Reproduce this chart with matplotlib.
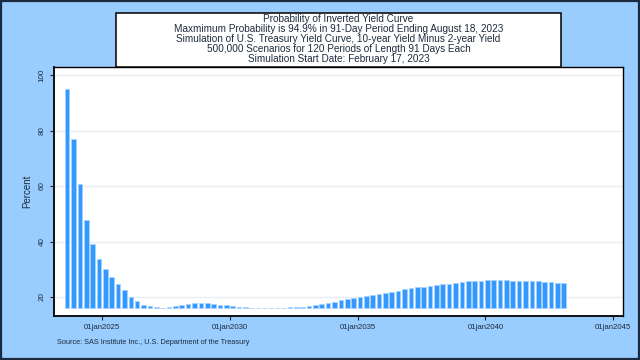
import matplotlib
matplotlib.use("Agg")
import matplotlib.pyplot as plt
import matplotlib.dates as mdates
from matplotlib.patches import Rectangle
import numpy as np
import pandas as pd

plt.rcParams['font.family'] = ['Liberation Sans', 'DejaVu Sans']

# ---- data ----
first_period_end = "2023-08-18"
period_days = 91
probability = [
    94.9, 76.9, 60.6, 47.7, 39.1, 33.7, 30.1, 27.3, 24.8, 22.4,
    20.1, 18.4, 17.2, 16.6, 16.3, 16.2, 16.5, 16.9, 17.2, 17.6,
    17.8, 17.8, 17.7, 17.6, 17.2, 17.0, 16.7, 16.4, 16.25, 16.15,
    16.1, 16.1, 16.1, 16.1, 16.15, 16.3, 16.4, 16.5, 16.9, 17.2,
    17.6, 18.0, 18.3, 18.8, 19.3, 19.6, 20.1, 20.5, 20.8, 21.2,
    21.6, 21.9, 22.3, 22.8, 23.1, 23.5, 23.7, 24.0, 24.3, 24.6,
    24.8, 25.2, 25.4, 25.6, 25.8, 25.9, 26.0, 26.0, 26.0, 26.0,
    25.9, 25.9, 25.8, 25.8, 25.6, 25.5, 25.4, 25.2, 25.1,
]
bar_base = 16.1
y_ticks = [20, 40, 60, 80, 100]
x_tick_dates = ["2025-01-01", "2030-01-01", "2035-01-01", "2040-01-01", "2045-01-01"]
x_tick_labels = ["01jan2025", "01jan2030", "01jan2035", "01jan2040", "01jan2045"]
title_lines = [
    "Probability of Inverted Yield Curve",
    "Maxmimum Probability is 94.9% in 91-Day Period Ending August 18, 2023",
    "Simulation of U.S. Treasury Yield Curve, 10-year Yield Minus 2-year Yield",
    "500,000 Scenarios for 120 Periods of Length 91 Days Each",
    "Simulation Start Date: February 17, 2023",
]
y_label = "Percent"
source_note = "Source: SAS Institute Inc., U.S. Department of the Treasury"

# ---- figure ----
W, H = 640, 360
BG = '#99ccff'
TXT = '#1e2b3c'
fig = plt.figure(figsize=(W / 100, H / 100), dpi=100, facecolor=BG)

# outer border
fig.patches.append(Rectangle((0.0015, 0.003), 0.997, 0.994, transform=fig.transFigure,
                             fill=False, edgecolor='#1a2a40', linewidth=1.6, zorder=0))

L, R, T, B = 54, 623, 67, 316
ax = fig.add_axes([L / W, 1 - B / H, (R - L) / W, (B - T) / H])
ax.set_facecolor('white')

dates = pd.date_range(first_period_end, periods=len(probability), freq=f"{period_days}D")
vals = np.array(probability)
ax.bar(dates, vals - bar_base, bottom=bar_base, width=66, color='#3399ff',
       edgecolor='#a6d2ff', linewidth=0.6, zorder=3)

ax.set_ylim(13.15, 102.9)
ax.set_xlim(pd.Timestamp("2023-02-11"), pd.Timestamp("2045-05-20"))

ax.set_yticks(y_ticks)
ax.set_yticklabels([str(v) for v in y_ticks], rotation=90, va='center',
                   fontsize=5.8, color=TXT)
ax.set_xticks([mdates.date2num(pd.Timestamp(d)) for d in x_tick_dates])
ax.set_xticklabels(x_tick_labels, fontsize=5.6, color=TXT)
ax.tick_params(axis='both', direction='out', length=3, width=0.8, color='#222222')
ax.tick_params(axis='y', pad=3)
ax.tick_params(axis='x', pad=2.5)
ax.grid(axis='y', color='#e6eef3', linewidth=1.0, zorder=0)
ax.set_axisbelow(True)
for s in ax.spines.values():
    s.set_color('black')
    s.set_linewidth(1.0)
ax.spines['left'].set_linewidth(1.3)
ax.spines['bottom'].set_linewidth(1.3)

fig.text(27 / W, 1 - 191 / H, y_label, rotation=90, ha='center', va='center',
         fontsize=7, color=TXT)

# title box
bx0, bx1, by0, by1 = 116, 561, 12.7, 66.5
fig.patches.append(Rectangle((bx0 / W, 1 - by1 / H), (bx1 - bx0) / W, (by1 - by0) / H,
                             transform=fig.transFigure, facecolor='white',
                             edgecolor='black', linewidth=1.1, zorder=1))
line_y = [19, 29.3, 39.3, 49.3, 59.3]
for ly, txt in zip(line_y, title_lines):
    fig.text((bx0 + bx1) / 2 / W, 1 - ly / H, txt, ha='center', va='center',
             fontsize=7.2, color=TXT, zorder=2)

fig.text(57 / W, 1 - 342 / H, source_note, ha='left', va='center', fontsize=5.3, color=TXT)

fig.savefig("out.png", dpi=100, facecolor=BG)
